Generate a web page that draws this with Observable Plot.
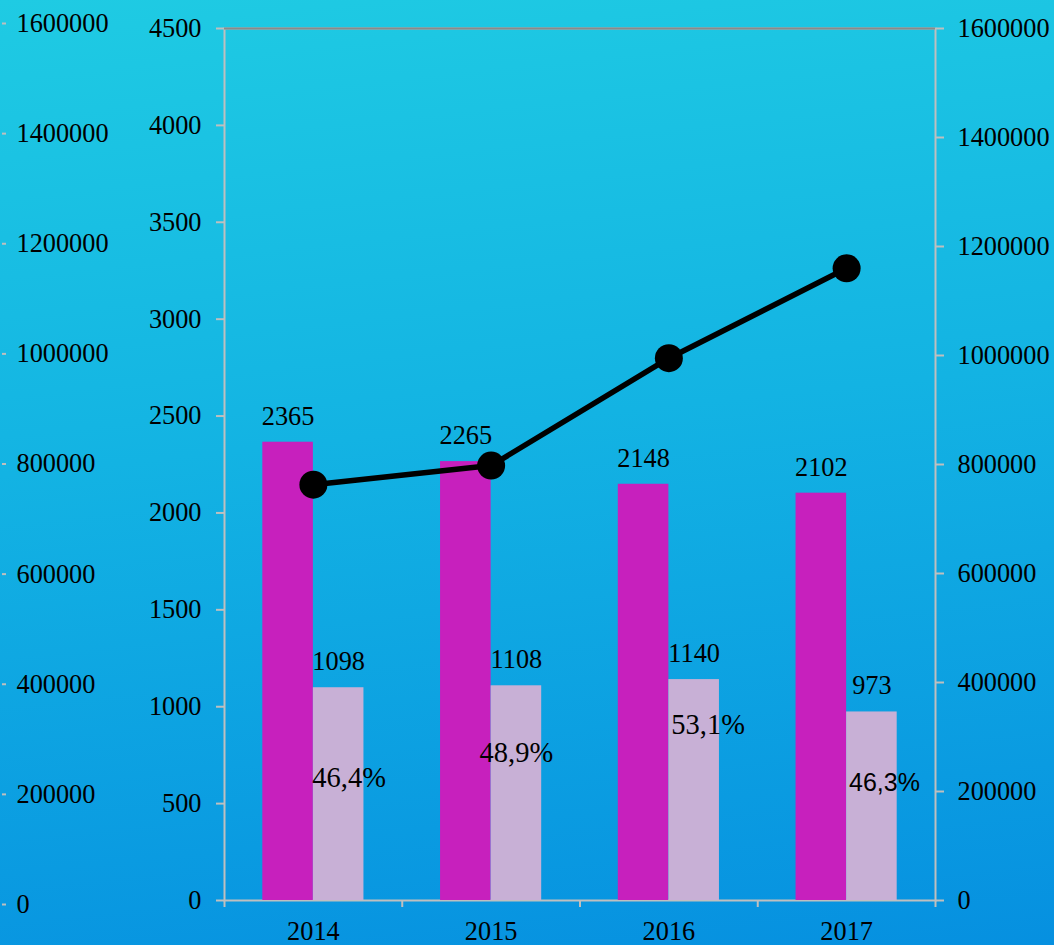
<!DOCTYPE html>
<html><head><meta charset="utf-8">
<script src="https://cdn.jsdelivr.net/npm/d3@7"></script>
<script src="https://cdn.jsdelivr.net/npm/@observablehq/plot@0.6"></script>
<style>
html,body{margin:0;padding:0;}
body{width:1054px;height:945px;overflow:hidden;background:linear-gradient(174deg,#1fcbe3 0%,#13b3e3 45%,#0690e0 100%);}
#chart{position:relative;width:1054px;height:945px;}
#chart svg{position:absolute;left:0;top:0;}
</style></head><body><div id="chart"></div>
<script>
// ---- data ----
const years = ["2014", "2015", "2016", "2017"];
const totals = [2365, 2265, 2148, 2102];
const parts = [1098, 1108, 1140, 973];
const shares = ["46,4%", "48,9%", "53,1%", "46,3%"];
const lineValues = [763000, 798000, 995000, 1160000];
const leftTicks = [0, 500, 1000, 1500, 2000, 2500, 3000, 3500, 4000, 4500];
const bigTicks = [0, 200000, 400000, 600000, 800000, 1000000, 1200000, 1400000, 1600000];

// ---- styling ----
const W = 1054, H = 945;
const mL = 224, mR = 119, mT = 28, mB = 45;
const padInner = 0.431;
const step = (W - mL - mR) / years.length;
const bw = step * (1 - padInner);
const serif = "Liberation Serif";
const fs = 26.3;
const axisGray = "#bfbfbf";
const pctStyle = [
  {dx: 10.5, dy: 90, font: serif, size: 28.5},
  {dx: 0, dy: 67, font: serif, size: 28.5},
  {dx: 14, dy: 45, font: serif, size: 28.5},
  {dx: 12.5, dy: 71.5, font: "Liberation Sans", size: 25}
];
const k = 4500 / 1600000; // right-axis values mapped onto bar scale

const rows = years.map((y, i) => ({year: y, total: totals[i], part: parts[i], share: shares[i], line: lineValues[i]}));

const main = Plot.plot({
  width: W, height: H,
  marginLeft: mL, marginRight: mR, marginTop: mT, marginBottom: mB,
  style: {fontFamily: serif, fontSize: fs + "px", color: "black", background: "transparent", overflow: "visible"},
  x: {type: "band", domain: years, paddingInner: padInner, paddingOuter: padInner / 2, round: false, label: null},
  y: {domain: [0, 4500], label: null},
  marks: [
    Plot.frame({stroke: axisGray, strokeWidth: 2}),
    Plot.ruleY([4500], {stroke: "#8a8a8a", strokeWidth: 2}),
    Plot.barY(rows, {x: "year", y: "total", fill: "#c720bd", insetRight: bw / 2}),
    Plot.barY(rows, {x: "year", y: "part", fill: "#c8b0d6", insetLeft: bw / 2}),
    Plot.axisY(leftTicks, {anchor: "left", tickSize: 8, tickPadding: 15, stroke: axisGray, strokeWidth: 2, tickFormat: d => String(d), label: null, fontSize: fs}),
    Plot.axisY(bigTicks.map(v => v * k), {anchor: "right", tickSize: 8, tickPadding: 14, stroke: axisGray, strokeWidth: 2, tickFormat: d => String(Math.round(d / k)), label: null, fontSize: fs}),
    Plot.axisX(years, {anchor: "bottom", tickSize: 7, dx: -step / 2, stroke: axisGray, strokeWidth: 2, tickFormat: () => "", label: null}),
    Plot.axisX(years.slice(-1), {anchor: "bottom", tickSize: 7, dx: step / 2, stroke: axisGray, strokeWidth: 2, tickFormat: () => "", label: null}),
    Plot.axisX(years, {anchor: "bottom", tickSize: 0, tickPadding: 21, label: null, fontSize: fs}),
    Plot.line(rows, {x: "year", y: d => d.line * k, stroke: "black", strokeWidth: 5.5}),
    Plot.dot(rows, {x: "year", y: d => d.line * k, r: 14, fill: "black"}),
    Plot.text(rows, {x: "year", y: "total", text: d => String(d.total), dx: -bw / 4, dy: -26, fill: "black", fontSize: fs, fontFamily: serif}),
    Plot.text(rows, {x: "year", y: "part", text: d => String(d.part), dx: bw / 4, dy: -26, fill: "black", fontSize: fs, fontFamily: serif}),
    ...rows.map((r, i) => Plot.text([r], {x: "year", y: "part", text: "share", dx: bw / 4 + pctStyle[i].dx, dy: pctStyle[i].dy, fill: "black", fontSize: pctStyle[i].size, fontFamily: pctStyle[i].font}))
  ]
});

const outer = Plot.plot({
  width: 140, height: H,
  marginLeft: 0, marginRight: 139, marginTop: 23, marginBottom: 41,
  style: {fontFamily: serif, fontSize: fs + "px", color: "black", background: "transparent", overflow: "visible"},
  y: {domain: [0, 1600000], label: null},
  marks: [
    Plot.axisY(bigTicks, {anchor: "right", tickSize: 4, tickPadding: 11, stroke: axisGray, strokeWidth: 2, tickFormat: d => String(d), label: null, fontSize: fs})
  ]
});

const el = document.getElementById("chart");
el.appendChild(outer);
el.appendChild(main);
</script>
</body></html>
